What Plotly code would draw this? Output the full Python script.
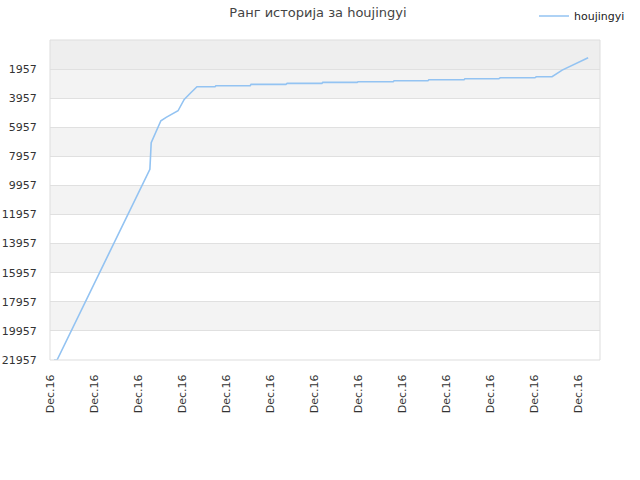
import plotly.graph_objects as go

# x positions (in units of the tick spacing) and rank values
x_pos = [0.09, 0.16, 2.27, 2.30, 2.52, 2.64, 2.91, 3.05, 3.20, 3.34, 3.75, 3.77,
         4.55, 4.57, 5.36, 5.39, 6.18, 6.20, 6.98, 7.00, 7.80, 7.82, 8.59, 8.61,
         9.41, 9.43, 10.20, 10.23, 11.02, 11.05, 11.41, 11.64, 12.23]
rank = [21957, 21957, 8851, 7022, 5510, 5277, 4823, 4040, 3586, 3173, 3173, 3104,
        3104, 3010, 3010, 2940, 2940, 2871, 2871, 2829, 2829, 2761, 2761, 2692,
        2692, 2624, 2624, 2555, 2555, 2486, 2486, 2026, 1180]

tick_pos = list(range(13))
tick_text = ["Dec.16"] * 13
y_ticks = [1957, 3957, 5957, 7957, 9957, 11957, 13957, 15957, 17957, 19957, 21957]

y_top = -43
fig = go.Figure()
fig.add_trace(go.Scatter(x=x_pos, y=rank, mode="lines", name="houjingyi",
                         line=dict(color="#93c3f2", width=1.6)))

shapes = []
# top band darker
shapes.append(dict(type="rect", xref="paper", yref="y", x0=0, x1=1, y0=y_top, y1=y_ticks[0],
                   fillcolor="#eeeeee", line_width=0, layer="below"))
for i in range(len(y_ticks) - 1):
    if i % 2 == 0:
        shapes.append(dict(type="rect", xref="paper", yref="y", x0=0, x1=1,
                           y0=y_ticks[i], y1=y_ticks[i + 1],
                           fillcolor="#f3f3f3", line_width=0, layer="below"))
shapes.append(dict(type="rect", xref="paper", yref="paper", x0=0, x1=1, y0=0, y1=1,
                   line=dict(color="#dddddd", width=1), fillcolor="rgba(0,0,0,0)"))

W, H = 640, 480
fig.update_layout(
    width=W, height=H,
    margin=dict(l=50, r=40, t=40, b=120, autoexpand=False),
    paper_bgcolor="white", plot_bgcolor="white",
    font=dict(family="DejaVu Sans", size=11, color="#333333"),
    title=dict(text="Ранг историја за houjingyi", x=318 / W, xanchor="center",
               y=1 - 12 / H, yanchor="middle", font=dict(size=13, color="#444444")),
    showlegend=True,
    legend=dict(x=(534 - 50) / 550, y=1 - 16 / H, xanchor="left", yanchor="middle",
                yref="container", itemwidth=30,
                font=dict(size=11, color="#222222"), bgcolor="rgba(0,0,0,0)"),
    shapes=shapes,
    xaxis=dict(range=[0, 12.5], tickmode="array", tickvals=tick_pos, ticktext=tick_text,
               tickangle=-90, showgrid=False, zeroline=False, showline=False,
               automargin=False, ticks="outside", ticklen=9,
               tickcolor="rgba(0,0,0,0)", tickfont=dict(size=11, color="#333333")),
    yaxis=dict(range=[21957, y_top], tickmode="array", tickvals=y_ticks,
               ticktext=[str(v) for v in y_ticks], automargin=False,
               showgrid=True, gridcolor="#e0e0e0", gridwidth=1, zeroline=False,
               showline=False, ticks="outside", ticklen=10, tickcolor="rgba(0,0,0,0)",
               tickfont=dict(size=11, color="#333333")),
)
fig.write_html("out.html", config={"displayModeBar": False},
               post_script="document.body.style.margin='0';document.body.style.overflow='hidden';")
